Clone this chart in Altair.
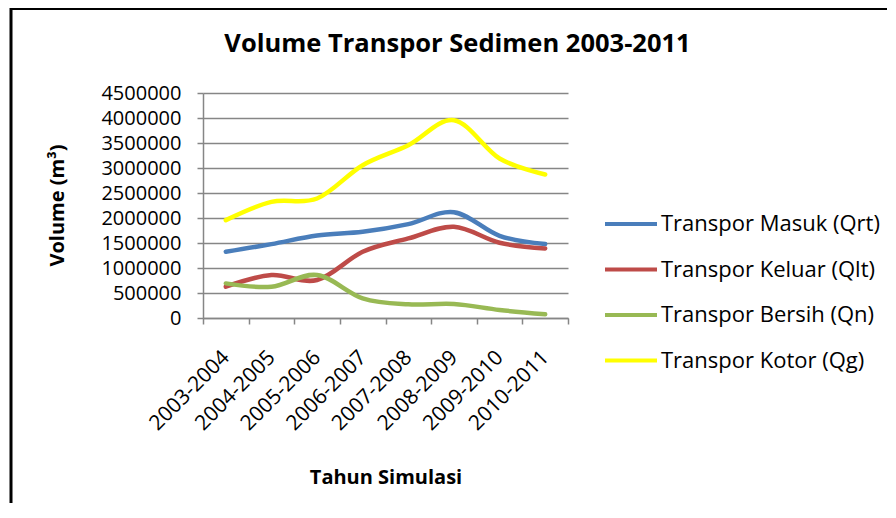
import altair as alt
import pandas as pd

categories = ["2003-2004", "2004-2005", "2005-2006", "2006-2007",
              "2007-2008", "2008-2009", "2009-2010", "2010-2011"]
series_names = ["Transpor Masuk (Qrt)", "Transpor Keluar (Qlt)",
                "Transpor Bersih (Qn)", "Transpor Kotor (Qg)"]
series_colors = ["#4A7EBB", "#BE4B48", "#98B954", "#FFFF00"]

masuk = [1325000, 1478000, 1651000, 1724000, 1877000, 2117000, 1644000, 1478000]
keluar = [626000, 859000, 759000, 1325000, 1591000, 1824000, 1505000, 1391000]
bersih = [692000, 626000, 859000, 393000, 273000, 280000, 160000, 73000]
kotor = [1957000, 2323000, 2390000, 3056000, 3455000, 3955000, 3189000, 2870000]

y_ticks = [0, 500000, 1000000, 1500000, 2000000, 2500000,
           3000000, 3500000, 4000000, 4500000]

rows = []
for name, vals in zip(series_names, [masuk, keluar, bersih, kotor]):
    for c, v in zip(categories, vals):
        rows.append({"Tahun": c, "Volume": v, "Seri": name})
df = pd.DataFrame(rows)

FONT = "Open Sans"
GRAY = "#868686"

lines = alt.Chart(df).mark_line(
    interpolate="cardinal", strokeWidth=4.5, strokeCap="round"
).encode(
    x=alt.X(
        "Tahun:N", sort=categories, bandPosition=0.5,
        scale=alt.Scale(type="band", paddingInner=0, paddingOuter=0),
        axis=alt.Axis(
            title="Tahun Simulasi", tickBand="extent", labelAngle=-45,
            labelAlign="right", labelBaseline="middle", labelPadding=30,
            tickSize=6, titleY=159, titleBaseline="middle",
            titleFontSize=20, titleFontWeight="bold", labelFontSize=21,
        ),
    ),
    y=alt.Y(
        "Volume:Q",
        scale=alt.Scale(domain=[0, 4500000], nice=False),
        axis=alt.Axis(
            title="Volume (m³)", values=y_ticks, format="d", tickSize=6,
            labelPadding=16, labelFontSize=20, titleFontSize=20,
            titleFontWeight="bold", titleX=-146, titleY=112,
            titleAngle=-90, titleAlign="center", titleBaseline="middle",
        ),
    ),
    color=alt.Color(
        "Seri:N",
        scale=alt.Scale(domain=series_names, range=series_colors),
        legend=alt.Legend(
            title=None, orient="none", legendX=400, legendY=103,
            symbolType="stroke", symbolSize=2704, symbolStrokeWidth=4,
            labelFontSize=22, labelOffset=2, rowPadding=6.5, padding=0,
            labelLimit=400,
        ),
    ),
)

border = alt.Chart(alt.Data(values=[{"b": 1}])).mark_rule(
    color="#000000", strokeWidth=2
)
top_line = border.encode(x=alt.value(-193), x2=alt.value(684), y=alt.value(-84))
left_line = border.mark_rule(color="#000000", strokeWidth=3).encode(
    x=alt.value(-192), y=alt.value(-85), y2=alt.value(420)
)

chart = alt.layer(lines, top_line, left_line).properties(
    width=365, height=225,
    autosize=alt.AutoSizeParams(type="none"),
    padding={"left": 195, "top": 85, "right": 320, "bottom": 185},
    title=alt.TitleParams(
        "Volume Transpor Sedimen 2003-2011", fontSize=25.5, fontWeight="bold",
        font=FONT, dx=72, dy=71, offset=0, baseline="alphabetic",
        anchor="middle", color="#000000",
    ),
).configure_axis(
    labelFont=FONT, titleFont=FONT, labelColor="#000000", titleColor="#000000",
    domainColor=GRAY, tickColor=GRAY, gridColor=GRAY, gridWidth=1.3,
    domainWidth=1.5, tickWidth=1.5, gridOpacity=1,
).configure_axisX(grid=False).configure_legend(
    labelFont=FONT, labelColor="#000000"
).configure_view(stroke=None)

chart.save("out.html", embed_options={"renderer": "svg", "actions": False})
